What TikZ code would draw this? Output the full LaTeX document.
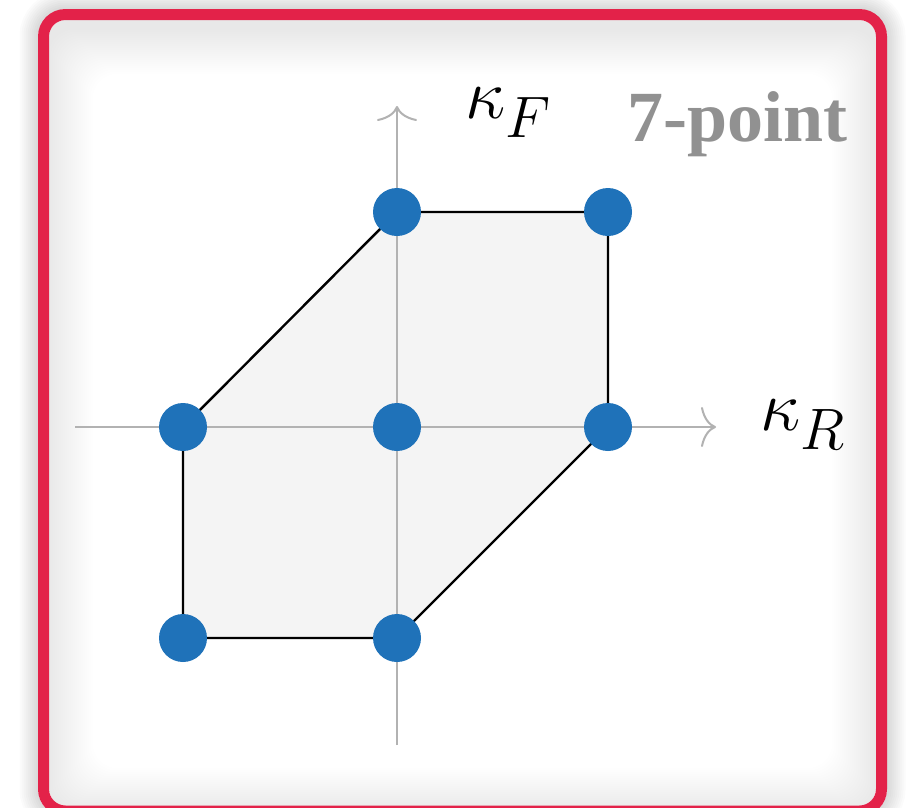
\documentclass[tikz,border=0pt]{standalone}
\usepackage{fontspec}
\newfontfamily\titlefont{Liberation Serif}
\usetikzlibrary{arrows.meta,backgrounds}
\definecolor{framered}{RGB}{227,34,73}
\definecolor{dotblue}{RGB}{31,114,185}
\definecolor{axisgray}{RGB}{178,178,178}
\definecolor{regiongray}{RGB}{244,244,244}
\definecolor{titlegray}{RGB}{145,145,145}
\newcommand{\bigkappa}{\mbox{\scalebox{1.22}{$\kappa$}}}
\tikzset{
  gridpt/.style={circle, fill=dotblue, minimum size=48pt, inner sep=0pt},
  axisline/.style={axisgray, line width=2pt, -{To[length=15pt,width=40pt]}},
  edgeline/.style={black, line width=2.4pt, line join=round},
  kappalabel/.style={anchor=base west, inner sep=0pt, font=\Huge, scale=2.35, transform shape},
}
\begin{document}
\begin{tikzpicture}[x=1pt, y=-1pt]
    \useasboundingbox (0,0) rectangle (908,807);
    % --- punkty siatki ---
    \node[gridpt] (tl) at (397,212) {};
    \node[gridpt] (tr) at (608,212) {};
    \node[gridpt] (ml) at (183,427) {};
    \node[gridpt] (mc) at (397,427) {};
    \node[gridpt] (mr) at (608,427) {};
    \node[gridpt] (bl) at (183,638) {};
    \node[gridpt] (bc) at (397,638) {};
    % --- osie: koordynaty ---
    \coordinate (xstart) at (75,427);
    \coordinate (xend)   at (716,427);
    \coordinate (ystart) at (397,745);
    \coordinate (yend)   at (397,106);
    % --- etykiety ---
    \node[kappalabel] (kf) at (465,118) {$\bigkappa_{\textstyle F}$};
    \node[kappalabel] (kr) at (760,430) {$\bigkappa_{\textstyle R}$};
    \node[anchor=base west, inner sep=0pt, text=titlegray,
          font=\titlefont\bfseries\fontsize{72}{80}\selectfont] (title) at (627,141) {7-point};
    \begin{pgfonlayer}{background}
      \fill[white] (0,0) rectangle (908,807);
      % --- cien zewnetrzny ---
      \begin{scope}[even odd rule]
        \clip (-60,-60) rectangle (968,880) [rounded corners=28] (38,9) rectangle (887,817);
        \foreach \w in {4,8,...,48} {
          \draw[black, opacity=0.014, line width=\w, rounded corners=22] (43.5,14.5) rectangle (881.5,811);
        }
      \end{scope}
      % --- cien wewnetrzny ---
      \begin{scope}
        \clip[rounded corners=17] (49,20) rectangle (876,805.5);
        \foreach \w in {0,2,...,44} {
          \fill[black, opacity=0.0055, even odd rule] (0,0) rectangle (908,900)
            [rounded corners=24] (49+\w,30+\w) rectangle (876-\w,812-\w);
        }
      \end{scope}
      % --- ramka ---
      \draw[framered, line width=11pt, rounded corners=22] (43.5,14.5) rectangle (881.5,811);
      % --- obszar ---
      \fill[regiongray] (tl.center) -- (tr.center) -- (mr.center) -- (bc.center)
        -- (bl.center) -- (ml.center) -- cycle;
      \draw[axisline] (xstart) -- (xend);
      \draw[axisline] (ystart) -- (yend);
      \draw[edgeline] (tl.center) -- (tr.center) -- (mr.center) -- (bc.center)
        -- (bl.center) -- (ml.center) -- cycle;
    \end{pgfonlayer}
  \end{tikzpicture}
\end{document}
